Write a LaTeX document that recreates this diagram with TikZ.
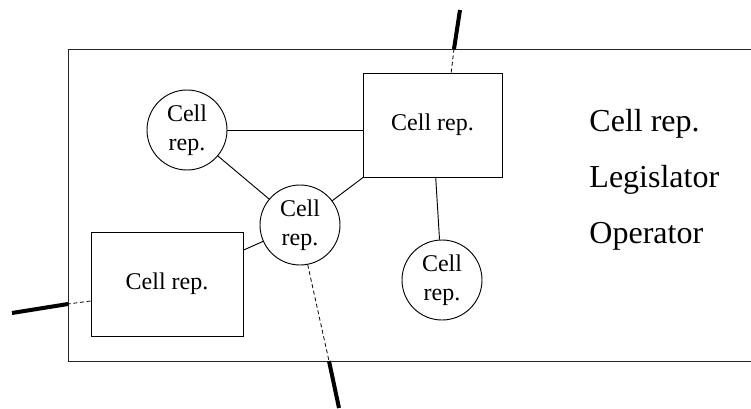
\documentclass[tikz,border=0pt]{standalone}
\usepackage{fontspec}
\setmainfont{Liberation Serif}

\begin{document}
\begin{tikzpicture}[x=0.75pt, y=-0.75pt, line width=0.7pt,
  cellrep/.style={draw, circle, minimum size=60pt, inner sep=0pt, align=center,
                  font=\fontsize{18}{22}\selectfont},
  cellbox/.style={draw, rectangle, minimum height=78pt, inner sep=0pt,
                  font=\fontsize{18}{22}\selectfont},
  legend/.style={anchor=base west, inner sep=0pt, font=\fontsize{24}{28}\selectfont},
  exit/.style={line width=0.6pt, dash pattern=on 3pt off 2pt},
  feed/.style={line width=3pt}]

\useasboundingbox (0,0) rectangle (751,408);

% frame (open to the right)
\coordinate (fNE) at (780, 49);
\coordinate (fNW) at ( 68, 49);
\coordinate (fSW) at ( 68,361);
\coordinate (fSE) at (780,361);
\draw[black!85] (fNE) -- (fNW) -- (fSW) -- (fSE);

% cell representatives
\node[cellrep] (circTL) at (187,130) {Cell\\rep.};
\node[cellrep] (circM)  at (300,225) {Cell\\rep.};
\node[cellrep] (circBR) at (442,280) {Cell\\rep.};
\node[cellbox, minimum width=104.25pt] (boxTR) at (432.5,125) {Cell rep.};
\node[cellbox, minimum width=114pt]    (boxBL) at (167,284)   {Cell rep.};

% legend
\node[legend] (legCell) at (589,131) {Cell rep.};
\node[legend] (legLeg)  at (589,187) {Legislator};
\node[legend] (legOp)   at (589,243) {Operator};

% links
\draw (circTL) -- (circTL -| boxTR.west);
\draw (circTL) -- (circM);
\draw (circM)  -- (boxTR);
\draw (circM)  -- (boxBL);
\draw (boxTR)  -- (circBR);

% exits through the frame
\coordinate (exitN) at (454, 49);
\coordinate (endN)  at (460, 10);
\coordinate (exitW) at ( 68,304);
\coordinate (endW)  at ( 12,313);
\coordinate (exitS) at (329,361);
\coordinate (endS)  at (339,408);

\draw[exit] ([xshift=14pt]boxTR.north) -- (exitN);
\draw[feed] (exitN) -- (endN);
\draw[exit] ([yshift=-12.75pt]boxBL.west) -- (exitW);
\draw[feed] (exitW) -- (endW);
\draw[exit] (circM.-79) -- (exitS);
\draw[feed] (exitS) -- (endS);

\end{tikzpicture}
\end{document}
